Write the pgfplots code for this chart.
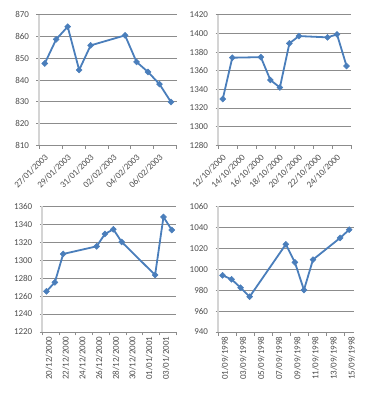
\documentclass[border=0pt]{standalone}
\usepackage{pgfplots}
\pgfplotsset{compat=1.18}
\usepackage{fontspec}
\setmainfont{Carlito}
\definecolor{ser}{HTML}{4A7EBB}
\definecolor{grd}{HTML}{8C8C8C}
\definecolor{yax}{HTML}{D4D4D4}
\definecolor{lbl}{HTML}{4D4D4D}
\pgfplotsset{
  panel/.style={
    scale only axis,
    anchor=south west,
    axis lines*=left,
    x axis line style={draw=grd, line width=0.7pt},
    y axis line style={draw=yax, line width=2pt},
    ymajorgrids=true,
    grid style={draw=grd, line width=0.6pt},
    tick align=outside,
    major tick length=2.5pt,
    minor tick length=3.5pt,
    major x tick style={draw=none},
    minor x tick style={draw=grd, line width=0.6pt},
    major y tick style={draw=grd, line width=0.6pt},
    tick label style={font=\fontsize{9}{10}\selectfont, text=lbl},
    /pgf/number format/assume math mode=true,
    /pgf/number format/1000 sep={},
    yticklabel style={xshift=-4pt},
    clip=false,
  },
  diag/.style={xticklabel style={rotate=45, anchor=east, yshift=-7pt, xshift=-1pt}},
  vert/.style={xticklabel style={rotate=90, anchor=east, yshift=-2.5pt, xshift=1.5pt}},
  ser/.style={color=ser, line width=1.8pt, mark=square*, mark size=2.1pt,
    mark options={rotate=45, solid, line width=0.5pt}},
}
\begin{document}
\begin{tikzpicture}
\useasboundingbox (0pt,0pt) rectangle (378pt,400pt);
% Chart 1
\begin{axis}[panel, diag, at={(39pt,254.7pt)}, width=137.7pt, height=130.6pt,
  xmin=-0.5, xmax=11.5, ymin=810, ymax=870, ytick={810,820,...,870},
  xtick={0,2,...,10}, minor xtick={-0.5,1.5,...,11.5},
  xticklabels={27/01/2003,29/01/2003,31/01/2003,02/02/2003,04/02/2003,06/02/2003}]
\addplot[ser] coordinates {(0,847.6) (1,858.7) (2,864.5) (3,844.6) (4,855.9) (7,860.5) (8,848.3) (9,843.7) (10,838.1) (11,829.9)};
\end{axis}
% Chart 2
\begin{axis}[panel, diag, at={(218pt,254.7pt)}, width=133.3pt, height=130.6pt,
  xmin=-0.5, xmax=13.5, ymin=1280, ymax=1420, ytick={1280,1300,...,1420},
  xtick={0,2,...,12}, minor xtick={-0.5,1.5,...,13.5},
  xticklabels={12/10/2000,14/10/2000,16/10/2000,18/10/2000,20/10/2000,22/10/2000,24/10/2000}]
\addplot[ser] coordinates {(0,1329.6) (1,1373.9) (4,1374.5) (5,1350) (6,1342) (7,1389.3) (8,1397.1) (11,1395.7) (12,1398.9) (13,1365)};
\end{axis}
% Chart 3
\begin{axis}[panel, vert, at={(42.3pt,68pt)}, width=133.7pt, height=125.7pt,
  xmin=-0.5, xmax=15.5, ymin=1220, ymax=1360, ytick={1220,1240,...,1360},
  xtick={0,2,...,14}, minor xtick={-0.5,1.5,...,15.5},
  xticklabels={20/12/2000,22/12/2000,24/12/2000,26/12/2000,28/12/2000,30/12/2000,01/01/2001,03/01/2001}]
\addplot[ser] coordinates {(0,1265.3) (1,1275.3) (2,1306.9) (6,1315.4) (7,1329.2) (8,1334.4) (9,1320.3) (13,1283.5) (14,1348.1) (15,1333.6)};
\end{axis}
% Chart 4
\begin{axis}[panel, vert, at={(218pt,68pt)}, width=135.7pt, height=125.7pt,
  xmin=-0.5, xmax=14.5, ymin=940, ymax=1060, ytick={940,960,...,1060},
  xtick={0,2,...,14}, minor xtick={-0.5,1.5,...,13.5},
  xticklabels={01/09/1998,03/09/1998,05/09/1998,07/09/1998,09/09/1998,11/09/1998,13/09/1998,15/09/1998}]
\addplot[ser] coordinates {(0,994.1) (1,990.3) (2,982.3) (3,973.7) (7,1023.7) (8,1006.5) (9,980.1) (10,1009.1) (13,1029.8) (14,1037.7)};
\end{axis}
\end{tikzpicture}
\end{document}
